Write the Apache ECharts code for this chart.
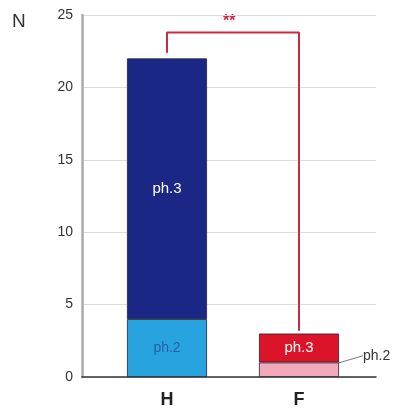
<!DOCTYPE html>
<html><head><meta charset="utf-8">
<script src="https://cdn.jsdelivr.net/npm/echarts@6/dist/echarts.min.js"></script>
<style>html,body{margin:0;padding:0;background:#fff}#c{width:402px;height:417px}</style>
</head><body><div id="c"></div>
<script>
var categories = ['H', 'F'];
var ph2Values = [4, 1];
var ph3Values = [18, 2];
var yTicks = [0, 5, 10, 15, 20, 25];
var bracketY = [22.4, 23.8, 23.8, 3.2];
var sigLabel = '**';

var chart = echarts.init(document.getElementById('c'), null, {renderer: 'canvas'});
var font = 'Liberation Sans, Arial, sans-serif';
var option = {
  animation: false,
  grid: [
    {left: 82, right: 26, top: 15, bottom: 40},
    {left: 101, right: 37, top: 15, bottom: 40}
  ],
  xAxis: [
    {gridIndex: 0, type: 'value', min: 0, max: 1, axisLine: {show: true, onZero: false, lineStyle: {color: '#333', width: 1.5}},
     axisTick: {show: false}, axisLabel: {show: false}, splitLine: {show: false}},
    {gridIndex: 1, type: 'category', data: categories, axisLine: {show: false}, axisTick: {show: false},
     axisLabel: {color: '#222', fontSize: 18, fontWeight: 'bold', fontFamily: font, margin: 14}}
  ],
  yAxis: [
    {gridIndex: 0, type: 'value', min: yTicks[0], max: yTicks[yTicks.length - 1], interval: yTicks[1] - yTicks[0],
     axisLine: {show: true, lineStyle: {color: '#aaa', width: 2.5}}, axisTick: {show: false},
     axisLabel: {color: '#333', fontSize: 14, fontFamily: font, margin: 9},
     splitLine: {show: true, lineStyle: {color: '#ddd', width: 1}}},
    {gridIndex: 1, type: 'value', min: yTicks[0], max: yTicks[yTicks.length - 1], show: false}
  ],
  series: [
    {type: 'bar', name: 'ph.2', xAxisIndex: 1, yAxisIndex: 1, stack: 's', barWidth: 80,
     data: [
       {value: ph2Values[0], itemStyle: {color: '#27a4df'},
        label: {show: true, position: 'inside', formatter: 'ph.2', color: '#2a5fa8', fontSize: 14, fontFamily: font}},
       {value: ph2Values[1], itemStyle: {color: '#f4a9bb'},
        label: {show: true, position: 'right', formatter: 'ph.2', color: '#333', fontSize: 14, fontFamily: font, distance: 2},
        labelLine: {show: true, lineStyle: {color: '#777', width: 1}}}
     ],
     itemStyle: {borderColor: '#223', borderWidth: 0.8},
     labelLayout: function (p) { return p.dataIndex === 1 ? {dx: 22, dy: -14} : {}; }
    },
    {type: 'bar', name: 'ph.3', xAxisIndex: 1, yAxisIndex: 1, stack: 's', barWidth: 80,
     data: [
       {value: ph3Values[0], itemStyle: {color: '#1a2785'}},
       {value: ph3Values[1], itemStyle: {color: '#dc1429'}}
     ],
     itemStyle: {borderColor: '#223', borderWidth: 0.8},
     label: {show: true, position: 'inside', formatter: 'ph.3', color: '#fff', fontSize: 15, fontFamily: font}
    },
    {type: 'line', xAxisIndex: 1, yAxisIndex: 1, symbol: 'none', silent: true,
     lineStyle: {color: '#cc2a40', width: 2},
     data: [[categories[0], bracketY[0]], [categories[0], bracketY[1]], [categories[1], bracketY[2]], [categories[1], bracketY[3]]]
    }
  ],
  graphic: [
    {type: 'text', left: 12, top: 12, style: {text: 'N', fill: '#333', font: '19px ' + font}},
    {type: 'text', left: 223, top: 14, style: {text: sigLabel, fill: '#cc2a40', font: 'bold 16px ' + font}}
  ]
};
chart.setOption(option);
</script></body></html>
